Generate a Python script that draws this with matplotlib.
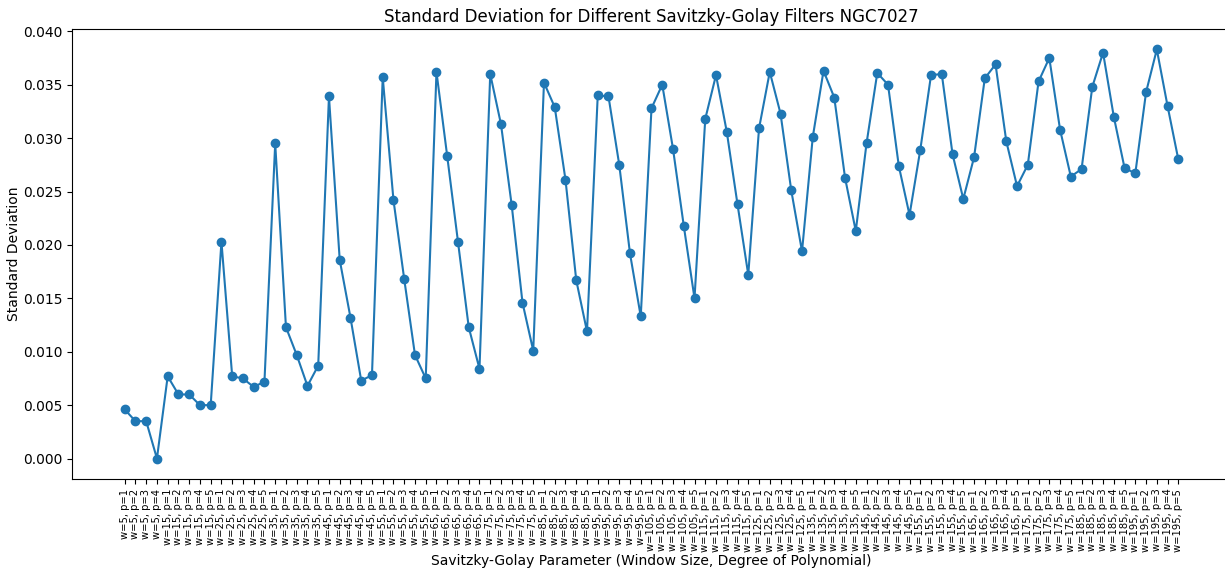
import matplotlib
matplotlib.use("Agg")
import matplotlib.pyplot as plt

windows = [5] + list(range(15, 200, 10))
labels = [f"w={w}, p={p}" for w in windows for p in (range(1, 5) if w == 5 else range(1, 6))]

std_values = [
    0.0046, 0.0035, 0.0035, 0.0000,
    0.0077, 0.0060, 0.0060, 0.0050, 0.0050,
    0.0203, 0.0077, 0.0075, 0.0067, 0.0072,
    0.0295, 0.0123, 0.0097, 0.0068, 0.0087,
    0.0339, 0.0186, 0.0132, 0.0073, 0.0078,
    0.0357, 0.0242, 0.0168, 0.0097, 0.0075,
    0.0362, 0.0283, 0.0203, 0.0123, 0.0084,
    0.0360, 0.0313, 0.0237, 0.0146, 0.0101,
    0.0352, 0.0329, 0.0261, 0.0167, 0.0119,
    0.0340, 0.0339, 0.0275, 0.0192, 0.0133,
    0.0328, 0.0350, 0.0290, 0.0218, 0.0150,
    0.0318, 0.0359, 0.0306, 0.0238, 0.0172,
    0.0309, 0.0362, 0.0323, 0.0251, 0.0194,
    0.0301, 0.0363, 0.0338, 0.0263, 0.0213,
    0.0295, 0.0361, 0.0350, 0.0274, 0.0228,
    0.0289, 0.0359, 0.0360, 0.0285, 0.0243,
    0.0282, 0.0356, 0.0369, 0.0297, 0.0255,
    0.0275, 0.0353, 0.0375, 0.0308, 0.0264,
    0.0271, 0.0348, 0.0380, 0.0320, 0.0272,
    0.0267, 0.0343, 0.0383, 0.0330, 0.0280,
]

W, H = 1225, 574
fig = plt.figure(figsize=(W / 100, H / 100), dpi=100)
ax = fig.add_axes([72 / W, 1 - 479 / H, (1231 - 72) / W, (479 - 29) / H])
x = list(range(len(labels)))
ax.plot(x, std_values, marker="o", color="#1f77b4")
ax.set_xticks(x)
ax.set_xticklabels(labels, rotation=90, fontsize=7.2)
ax.set_title("Standard Deviation for Different Savitzky-Golay Filters NGC7027", pad=5)
ax.set_xlabel("Savitzky-Golay Parameter (Window Size, Degree of Polynomial)", labelpad=2)
ax.set_ylabel("Standard Deviation", labelpad=1)
fig.savefig("out.png", dpi=100)
